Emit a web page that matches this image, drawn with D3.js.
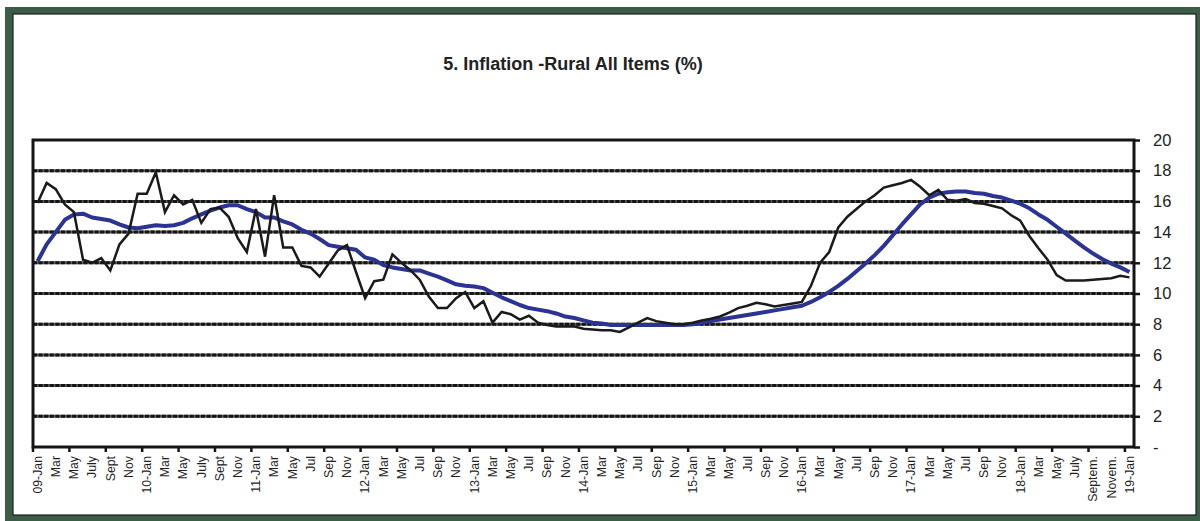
<!DOCTYPE html>
<html>
<head>
<meta charset="utf-8">
<script src="https://cdn.jsdelivr.net/npm/d3@7/dist/d3.min.js"></script>
<style>
  html, body { margin: 0; padding: 0; background: #fff; }
  svg { display: block; }
  text { font-family: "Liberation Sans", Arial, sans-serif; }
</style>
</head>
<body>
<svg id="chart" width="1200" height="521"></svg>
<script>
// Monthly rural inflation, Jan 2009 – Jan 2019 (121 months)
const years = ["09","10","11","12","13","14","15","16","17","18","19"];

// Point-to-point inflation (%)
const inflation = [
  15.9, 17.2, 16.8, 15.8, 15.3, 12.2, 12.0, 12.3, 11.5, 13.2, 13.9, 16.5,
  16.5, 17.9, 15.3, 16.4, 15.8, 16.1, 14.6, 15.5, 15.6, 15.0, 13.6, 12.7,
  15.5, 12.4, 16.4, 13.0, 13.0, 11.8, 11.7, 11.1, 11.95, 12.8, 13.15, 11.4,
  9.7, 10.8, 10.9, 12.55, 12.0, 11.5, 10.9, 9.8, 9.05, 9.05, 9.7, 10.1,
  9.05, 9.5, 8.1, 8.8, 8.65, 8.3, 8.55, 8.1, 7.95, 7.85, 7.85, 7.85,
  7.7, 7.65, 7.6, 7.6, 7.5, 7.8, 8.1, 8.4, 8.2, 8.1, 8.0, 8.0,
  8.1, 8.25, 8.35, 8.5, 8.75, 9.05, 9.2, 9.4, 9.3, 9.15, 9.25, 9.35,
  9.45, 10.5, 12.0, 12.7, 14.3, 15.0, 15.5, 16.0, 16.4, 16.9, 17.05, 17.2,
  17.4, 16.95, 16.4, 16.75, 16.1, 16.05, 16.15, 15.9, 15.85, 15.7, 15.55, 15.1,
  14.75, 13.75, 12.95, 12.2, 11.2, 10.85, 10.85, 10.85, 10.9, 10.95, 11.0, 11.15,
  11.05
];

// Annual average inflation (%)
const annualAverage = [
  12.1, 13.2, 14.0, 14.8, 15.15, 15.2, 14.95, 14.85, 14.75, 14.5, 14.3, 14.25,
  14.35, 14.45, 14.4, 14.45, 14.6, 14.9, 15.15, 15.4, 15.6, 15.75, 15.75, 15.5,
  15.3, 14.95, 14.95, 14.7, 14.5, 14.15, 13.9, 13.55, 13.15, 13.05, 12.95, 12.85,
  12.35, 12.2, 11.85, 11.7, 11.6, 11.5, 11.5, 11.3, 11.1, 10.85, 10.6, 10.5,
  10.45, 10.35, 10.05, 9.75, 9.5, 9.25, 9.05, 8.95, 8.85, 8.7, 8.5, 8.4,
  8.25, 8.1, 8.05, 7.95, 7.95, 7.95, 7.95, 7.95, 7.95, 7.95, 7.95, 7.95,
  8.0, 8.1, 8.2, 8.3, 8.4, 8.5, 8.6, 8.7, 8.8, 8.9, 9.0, 9.1,
  9.2, 9.45, 9.75, 10.1, 10.5, 10.95, 11.45, 11.95, 12.5, 13.1, 13.8, 14.5,
  15.15, 15.8, 16.25, 16.5, 16.6, 16.65, 16.65, 16.55, 16.5, 16.35, 16.25, 16.05,
  15.85, 15.55, 15.15, 14.8, 14.35, 13.9, 13.45, 13.0, 12.6, 12.25, 11.95, 11.7,
  11.4
];

// Category-axis labels, shown on every second month
const tickLabels = [
  "09-Jan","Mar","May","July","Sept","Nov",
  "10-Jan","Mar","May","July","Sept","Nov",
  "11-Jan","Mar","May","Jul","Sep","Nov",
  "12-Jan","Mar","May","Jul","Sep","Nov",
  "13-Jan","Mar","May","Jul","Sep","Nov",
  "14-Jan","Mar","May","Jul","Sep","Nov",
  "15-Jan","Mar","May","Jul","Sep","Nov",
  "16-Jan","Mar","May","Jul","Sep","Nov",
  "17-Jan","Mar","May","Jul","Sep","Nov",
  "18-Jan","Mar","May","July","Septem.","Novem.",
  "19-Jan"
];

const yTicks = [0, 2, 4, 6, 8, 10, 12, 14, 16, 18, 20];

// Month keys for the category axis
const monthNames = ["Jan","Feb","Mar","Apr","May","Jun","Jul","Aug","Sep","Oct","Nov","Dec"];
const months = [];
years.forEach((yy, yi) => {
  monthNames.forEach(m => { if (yi < years.length - 1 || m === "Jan") months.push(yy + "-" + m); });
});

const svg = d3.select("#chart");

// Frame
svg.append("rect").attr("x", 5).attr("y", 7).attr("width", 1195).attr("height", 514).attr("fill", "#3b5d47");
svg.append("rect").attr("x", 13).attr("y", 14).attr("width", 1183).attr("height", 501)
  .attr("fill", "#fff").attr("stroke", "#1c1c1c").attr("stroke-width", 1.2);

// Title
svg.append("text")
  .attr("x", 573).attr("y", 70)
  .attr("text-anchor", "middle")
  .attr("font-size", 18).attr("font-weight", "bold").attr("fill", "#222")
  .text("5. Inflation -Rural All Items (%)");

const plotLeft = 33, plotRight = 1134, plotTop = 140, plotBottom = 447;

const x = d3.scaleBand().domain(months).range([plotLeft, plotRight]).padding(0);
const y = d3.scaleLinear().domain([0, 20]).range([plotBottom, plotTop]);
const bw = x.bandwidth();

// Horizontal gridlines
const grid = svg.append("g");
yTicks.filter(v => v > 0 && v < 20).forEach(v => {
  grid.append("line").attr("x1", plotLeft).attr("x2", plotRight).attr("y1", y(v)).attr("y2", y(v))
    .attr("stroke", "#5a5a5a").attr("stroke-width", 3);
  grid.append("line").attr("x1", plotLeft).attr("x2", plotRight).attr("y1", y(v)).attr("y2", y(v))
    .attr("stroke", "#151515").attr("stroke-width", 3).attr("stroke-dasharray", "4 1.6");
});

// Right value axis
const yAxis = d3.axisRight(y).tickValues(yTicks).tickSize(6).tickPadding(13)
  .tickFormat(v => v === 0 ? "-" : String(v));
const ya = svg.append("g").attr("transform", `translate(${plotRight},0)`).call(yAxis);
ya.select(".domain").remove();
ya.selectAll(".tick line").attr("stroke", "#151515").attr("stroke-width", 2.5);
ya.selectAll(".tick text").attr("font-size", 16.5).attr("fill", "#222")
  .attr("font-family", "'Liberation Sans', Arial, sans-serif");

// Bottom category axis: tick marks every four months, labels every two
const xa = svg.append("g").attr("transform", `translate(0,${plotBottom})`);
months.forEach((m, i) => {
  if (i % 4 === 0) {
    xa.append("line").attr("x1", x(m)).attr("x2", x(m)).attr("y1", 0).attr("y2", 5)
      .attr("stroke", "#151515").attr("stroke-width", 2.5);
  }
  if (i % 2 === 0) {
    const cx = x(m) + bw / 2;
    xa.append("text")
      .attr("transform", `translate(${cx},9) rotate(-90)`)
      .attr("text-anchor", "end")
      .attr("dy", "0.35em")
      .attr("font-size", 12.3).attr("fill", "#1e1e1e")
      .text(tickLabels[i / 2]);
  }
});

// Plot border
svg.append("rect").attr("x", plotLeft).attr("y", plotTop)
  .attr("width", plotRight - plotLeft).attr("height", plotBottom - plotTop)
  .attr("fill", "none").attr("stroke", "#151515").attr("stroke-width", 3);

// Series lines
const line = d3.line()
  .x((d, i) => x(months[i]) + bw / 2)
  .y(d => y(d));

svg.append("path").datum(annualAverage)
  .attr("d", line).attr("fill", "none")
  .attr("stroke", "#2b3393").attr("stroke-width", 4).attr("stroke-linejoin", "round");

svg.append("path").datum(inflation)
  .attr("d", line).attr("fill", "none")
  .attr("stroke", "#1a1a1a").attr("stroke-width", 2.5).attr("stroke-linejoin", "miter");
</script>
</body>
</html>
